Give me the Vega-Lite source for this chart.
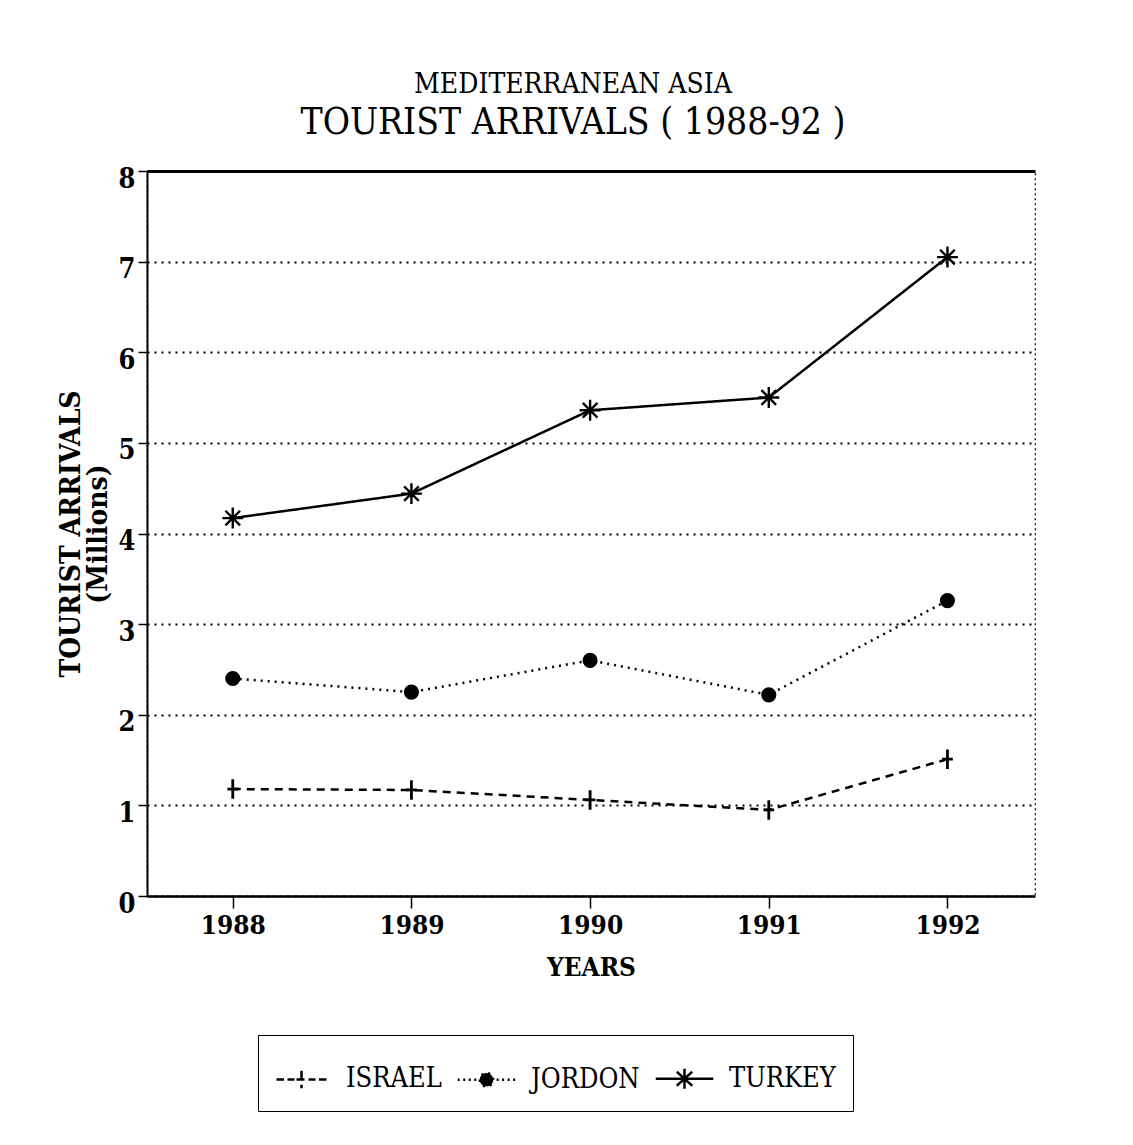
{
  "$schema": "https://vega.github.io/schema/vega-lite/v6.json",
  "width": 888,
  "height": 725,
  "autosize": {"type": "none"},
  "padding": {"left": 147, "top": 171, "right": 98, "bottom": 249},
  "background": "white",
  "title": {
    "text": "MEDITERRANEAN ASIA",
    "subtitle": "TOURIST ARRIVALS ( 1988-92 )",
    "anchor": "middle",
    "dx": -18,
    "offset": 24,
    "font": "DejaVu Serif Condensed",
    "fontSize": 28,
    "fontWeight": "normal",
    "color": "black",
    "subtitleFont": "DejaVu Serif Condensed",
    "subtitleFontSize": 37,
    "subtitleColor": "black",
    "subtitlePadding": 6
  },
  "data": {
    "values": [
      {"year": 1988, "country": "ISRAEL", "arrivals": 1.18},
      {"year": 1989, "country": "ISRAEL", "arrivals": 1.17},
      {"year": 1990, "country": "ISRAEL", "arrivals": 1.06},
      {"year": 1991, "country": "ISRAEL", "arrivals": 0.95},
      {"year": 1992, "country": "ISRAEL", "arrivals": 1.51},
      {"year": 1988, "country": "JORDON", "arrivals": 2.40},
      {"year": 1989, "country": "JORDON", "arrivals": 2.25},
      {"year": 1990, "country": "JORDON", "arrivals": 2.60},
      {"year": 1991, "country": "JORDON", "arrivals": 2.22},
      {"year": 1992, "country": "JORDON", "arrivals": 3.26},
      {"year": 1988, "country": "TURKEY", "arrivals": 4.17},
      {"year": 1989, "country": "TURKEY", "arrivals": 4.44},
      {"year": 1990, "country": "TURKEY", "arrivals": 5.36},
      {"year": 1991, "country": "TURKEY", "arrivals": 5.50},
      {"year": 1992, "country": "TURKEY", "arrivals": 7.05}
    ]
  },
  "encoding": {
    "x": {
      "field": "year",
      "type": "quantitative",
      "scale": {"domain": [1987.52, 1992.49], "nice": false, "zero": false},
      "axis": null
    },
    "y": {
      "field": "arrivals",
      "type": "quantitative",
      "scale": {"domain": [0, 8], "nice": false},
      "axis": {
        "title": ["TOURIST ARRIVALS", "(Millions)"],
        "values": [0, 1, 2, 3, 4, 5, 6, 7, 8],
        "grid": true,
        "gridColor": "black",
        "gridDash": [2, 5],
        "gridWidth": 1.8,
        "tickSize": 9,
        "tickWidth": 1.5,
        "tickColor": "black",
        "domainColor": "black",
        "domainWidth": 2,
        "labelFont": "DejaVu Serif Condensed",
        "labelFontSize": 27,
        "labelFontWeight": "bold",
        "labelColor": "black",
        "labelPadding": 3,
        "labelOffset": 8,
        "titleFont": "DejaVu Serif Condensed",
        "titleFontSize": 28,
        "titleFontWeight": "bold",
        "titleColor": "black",
        "titleLineHeight": 27,
        "titlePadding": 6
      }
    }
  },
  "layer": [
    {
      "mark": {"type": "line", "color": "black", "strokeWidth": 2.5},
      "encoding": {
        "x": {
          "field": "year",
          "type": "quantitative",
          "scale": {"domain": [1987.52, 1992.49], "nice": false, "zero": false},
          "axis": {
            "title": "YEARS",
            "orient": "bottom",
            "values": [1988, 1989, 1990, 1991, 1992],
            "format": "d",
            "grid": false,
            "tickSize": 12,
            "tickWidth": 1.5,
            "tickColor": "black",
            "domainColor": "black",
            "domainWidth": 2.5,
            "labelFont": "DejaVu Serif Condensed",
            "labelFontSize": 26,
            "labelFontWeight": "bold",
            "labelColor": "black",
            "labelPadding": 4,
            "titleFont": "DejaVu Serif Condensed",
            "titleFontSize": 26,
            "titleFontWeight": "bold",
            "titleColor": "black",
            "titlePadding": 16
          }
        },
        "strokeDash": {
          "field": "country",
          "type": "nominal",
          "scale": {"domain": ["ISRAEL", "JORDON", "TURKEY"], "range": [[8, 6], [2, 5], [1, 0]]},
          "legend": {
            "title": null,
            "orient": "none",
            "legendX": 111,
            "legendY": 864,
            "direction": "horizontal",
            "strokeColor": "black",
            "padding": 17,
            "columnPadding": 10,
            "symbolType": "stroke",
            "symbolSize": 2500,
            "symbolStrokeWidth": 2.5,
            "symbolStrokeColor": "black",
            "labelFont": "DejaVu Serif Condensed",
            "labelFontSize": 27,
            "labelColor": "black",
            "labelOffset": 18,
            "encode": {
              "symbols": {
                "update": {
                  "shape": {"signal": "datum.value === 'ISRAEL' ? 'M-1,0L-0.7,0M-0.56,0L-0.28,0M-0.2,0L0.2,0M0,-0.35L0,0.35M0.28,0L0.56,0M0.7,0L1,0' : datum.value === 'JORDON' ? 'M-1.15,0L-1.065,0M-0.93,0L-0.845,0M-0.71,0L-0.625,0M-0.49,0L-0.405,0M-0.27,0A0.27,0.27 0 1,0 0.27,0A0.27,0.27 0 1,0 -0.27,0ZM0.405,0L0.49,0M0.625,0L0.71,0M0.845,0L0.93,0M1.065,0L1.15,0' : 'M-1.15,0L1.15,0M0,-0.4L0,0.4M-0.31,-0.28L0.31,0.28M-0.31,0.28L0.31,-0.28'"},
                  "fill": {"signal": "datum.value === 'JORDON' ? 'black' : 'transparent'"},
                  "stroke": {"value": "black"},
                  "strokeDash": {"value": [1, 0]},
                  "size": {"value": 2500},
                  "strokeWidth": {"value": 2.5}
                }
              }
            }
          }
        }
      }
    },
    {
      "transform": [{"filter": "datum.country === 'ISRAEL'"}],
      "mark": {"type": "point", "shape": "M-0.55,0L0.55,0M0,-1L0,1", "size": 380, "filled": false, "color": "black", "strokeWidth": 2.8, "opacity": 1}
    },
    {
      "transform": [{"filter": "datum.country === 'JORDON'"}],
      "mark": {"type": "point", "shape": "circle", "size": 230, "filled": true, "color": "black", "opacity": 1}
    },
    {
      "transform": [{"filter": "datum.country === 'TURKEY'"}],
      "mark": {"type": "point", "shape": "M-1,0L1,0M0,-1L0,1M-0.7,-0.7L0.7,0.7M-0.7,0.7L0.7,-0.7", "size": 440, "filled": false, "color": "black", "strokeWidth": 2.4, "opacity": 1},
      "encoding": {
        "x": {
          "field": "year",
          "type": "quantitative",
          "scale": {"domain": [1987.52, 1992.49], "nice": false, "zero": false},
          "axis": {
            "orient": "top",
            "title": null,
            "labels": false,
            "ticks": false,
            "grid": false,
            "domainColor": "black",
            "domainWidth": 3
          }
        }
      }
    }
  ],
  "resolve": {"axis": {"x": "independent"}},
  "config": {
    "view": {"stroke": "black", "strokeDash": [2, 3], "strokeWidth": 1.2}
  }
}
